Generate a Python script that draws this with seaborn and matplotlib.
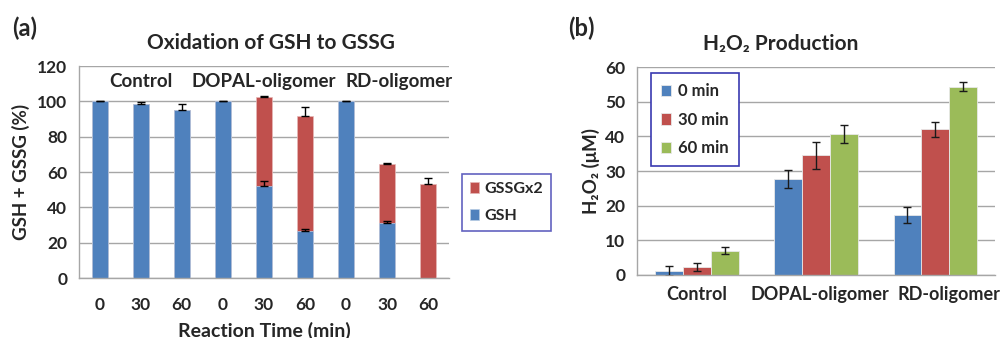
import numpy as np
import pandas as pd
import matplotlib
matplotlib.use("Agg")
import matplotlib.pyplot as plt
import matplotlib.transforms as mtransforms
import seaborn as sns

# ---- data (a): oxidation of GSH to GSSG ----
groups = ["Control", "DOPAL-oligomer", "RD-oligomer"]
times = ["0", "30", "60"]
gsh = [100, 98.3, 95, 100, 52, 26.5, 100, 31, 0]
gssg_x2 = [0, 0, 0, 0, 50.3, 65, 0, 33.5, 53]
gsh_err = [0.3, 1.2, 3.5, 0.3, 3, 1, 0.3, 1.5, 0]
total_err = [0, 0, 0, 0, 1, 5.5, 0, 0.5, 3.5]

# ---- data (b): H2O2 production ----
h2o2_times = ["0 min", "30 min", "60 min"]
h2o2_mean = {
    "0 min": [1.2, 27.7, 17.2],
    "30 min": [2.3, 34.5, 42.0],
    "60 min": [7.0, 40.7, 54.3],
}
h2o2_err = {
    "0 min": [1.5, 2.6, 2.3],
    "30 min": [1.2, 4.0, 2.3],
    "60 min": [1.0, 2.6, 1.3],
}

blue, red, green = "#4F81BD", "#C0504D", "#9BBB59"
frame_col = "#3A3AB0"

sns.set_style("white")
plt.rcParams["font.family"] = ["Lato", "DejaVu Sans"]
plt.rcParams["font.weight"] = "bold"
plt.rcParams["axes.titleweight"] = "bold"
plt.rcParams["axes.labelweight"] = "bold"

fig = plt.figure(figsize=(10.05, 3.38), dpi=100)

# ================= panel (a) =================
ax1 = fig.add_axes([0.0786, 0.1775, 0.368, 0.627])
pos = list(range(len(gsh)))
total = [a + b for a, b in zip(gsh, gssg_x2)]
df_a = pd.DataFrame({"pos": pos, "gsh": gsh, "total": total})

sns.barplot(data=df_a, x="pos", y="total", color=red, saturation=1,
            width=0.39, edgecolor="#e6b8b7", linewidth=0.5, ax=ax1,
            label="GSSGx2")
sns.barplot(data=df_a, x="pos", y="gsh", color=blue, saturation=1,
            width=0.39, edgecolor="#b8cce4", linewidth=0.5, ax=ax1,
            label="GSH")

# upper-only error bars (Excel style)
m1 = [v > 0 for v in gsh]
ax1.errorbar([p for p, m in zip(pos, m1) if m],
             [v for v, m in zip(gsh, m1) if m],
             yerr=[[0] * sum(m1), [e for e, m in zip(gsh_err, m1) if m]],
             fmt="none", ecolor="black", elinewidth=1, capsize=3,
             capthick=1, zorder=5)
m2 = [e > 0 for e in total_err]
ax1.errorbar([p for p, m in zip(pos, m2) if m],
             [t for t, m in zip(total, m2) if m],
             yerr=[[0] * sum(m2), [e for e, m in zip(total_err, m2) if m]],
             fmt="none", ecolor="black", elinewidth=1, capsize=3,
             capthick=1, zorder=5)

ax1.set_xlim(-0.5, 8.5)
ax1.set_ylim(0, 120)
ax1.set_yticks(range(0, 121, 20))
ax1.yaxis.grid(True, color="#a6a6a6", linewidth=1)
ax1.set_axisbelow(True)
ax1.set_xticks(pos)
ax1.set_xticklabels(times * 3, fontsize=12.5, fontweight="bold")
ax1.set_xticks(np.arange(-0.5, 9, 1), minor=True)
ax1.tick_params(axis="x", which="major", length=0, pad=14)
ax1.tick_params(axis="x", which="minor", length=5, color="#a6a6a6",
                direction="out")
ax1.tick_params(axis="y", length=5, color="#a6a6a6", labelsize=12.5)
for lbl in ax1.get_yticklabels():
    lbl.set_fontweight("bold")
for s in ["top", "right"]:
    ax1.spines[s].set_visible(False)
for s in ["left", "bottom"]:
    ax1.spines[s].set_color("#a6a6a6")
    ax1.spines[s].set_linewidth(1)
ax1.set_xlabel("Reaction Time (min)", fontsize=14, fontweight="bold",
               labelpad=6)
ax1.set_ylabel("GSH + GSSG (%)", fontsize=13.5, fontweight="bold",
               labelpad=5)
ax1.set_title("Oxidation of GSH to GSSG", fontsize=15, fontweight="bold",
              pad=12, x=0.52)
for gx, g in zip([1, 4, 7.3], groups):
    ax1.text(gx, 111, g, ha="center", va="center", fontsize=13.5,
             fontweight="bold")

handles, labels = ax1.get_legend_handles_labels()
leg1 = ax1.legend(handles, labels, loc="upper left",
                  bbox_to_anchor=(1.035, 0.49), borderaxespad=0,
                  frameon=True, fancybox=False,
                  edgecolor=frame_col, fontsize=11.5, handlelength=0.6,
                  handleheight=0.7, handletextpad=0.3, labelspacing=0.8,
                  borderpad=0.5)
leg1.get_frame().set_linewidth(1.2)
for t in leg1.get_texts():
    t.set_fontweight("bold")

# ================= panel (b) =================
ax2 = fig.add_axes([0.634, 0.1864, 0.356, 0.615])
rows = []
for t in h2o2_times:
    for g, m, e in zip(groups, h2o2_mean[t], h2o2_err[t]):
        rows.append({"group": g, "time": t, "h2o2": m, "err": e})
df_b = pd.DataFrame(rows)

sns.barplot(data=df_b, x="group", y="h2o2", hue="time", order=groups,
            hue_order=h2o2_times, palette=[blue, red, green], saturation=1,
            width=0.70, gap=0, edgecolor="#e8e8e8", linewidth=0.6, ax=ax2)

# error bars at bar centres
for cont, t in zip(ax2.containers, h2o2_times):
    xs = [b.get_x() + b.get_width() / 2 for b in cont]
    ax2.errorbar(xs, h2o2_mean[t], yerr=h2o2_err[t], fmt="none",
                 ecolor="#1a1a1a", elinewidth=1, capsize=3, capthick=1,
                 zorder=5)

ax2.set_xlim(-0.5, 2.5)
ax2.set_ylim(0, 60)
ax2.set_yticks(range(0, 61, 10))
ax2.yaxis.grid(True, color="#a6a6a6", linewidth=1)
ax2.set_axisbelow(True)
ax2.tick_params(axis="x", length=0, labelsize=13, pad=8)
ax2.tick_params(axis="y", length=5, color="#a6a6a6", labelsize=12.5)
for lbl in ax2.get_xticklabels() + ax2.get_yticklabels():
    lbl.set_fontweight("bold")
# Excel nudges the last category label to the right
shift = [0, 4, 14]
for lbl, dx in zip(ax2.get_xticklabels(), shift):
    lbl.set_transform(lbl.get_transform() + mtransforms.ScaledTranslation(
        dx / 100, 0, fig.dpi_scale_trans))
for s in ["top", "right"]:
    ax2.spines[s].set_visible(False)
for s in ["left", "bottom"]:
    ax2.spines[s].set_color("#a6a6a6")
    ax2.spines[s].set_linewidth(1)
ax2.set_xlabel("")
ax2.set_ylabel("H₂O₂ (μM)", fontsize=13.5, fontweight="bold", labelpad=4)
ax2.set_title("H₂O₂ Production", fontsize=15, fontweight="bold", pad=12,
              x=0.40)

leg2 = ax2.legend(loc="upper left", bbox_to_anchor=(0.04, 0.97),
                  borderaxespad=0, frameon=True, fancybox=False,
                  edgecolor=frame_col, fontsize=12, handlelength=0.6,
                  handleheight=0.7, handletextpad=0.4, labelspacing=0.75,
                  borderpad=0.6, framealpha=1)
leg2.get_frame().set_linewidth(1.2)
for t in leg2.get_texts():
    t.set_fontweight("bold")

fig.text(0.012, 0.892, "(a)", fontsize=17, fontweight="bold")
fig.text(0.565, 0.892, "(b)", fontsize=17, fontweight="bold")

fig.savefig("out.png", dpi=100)
